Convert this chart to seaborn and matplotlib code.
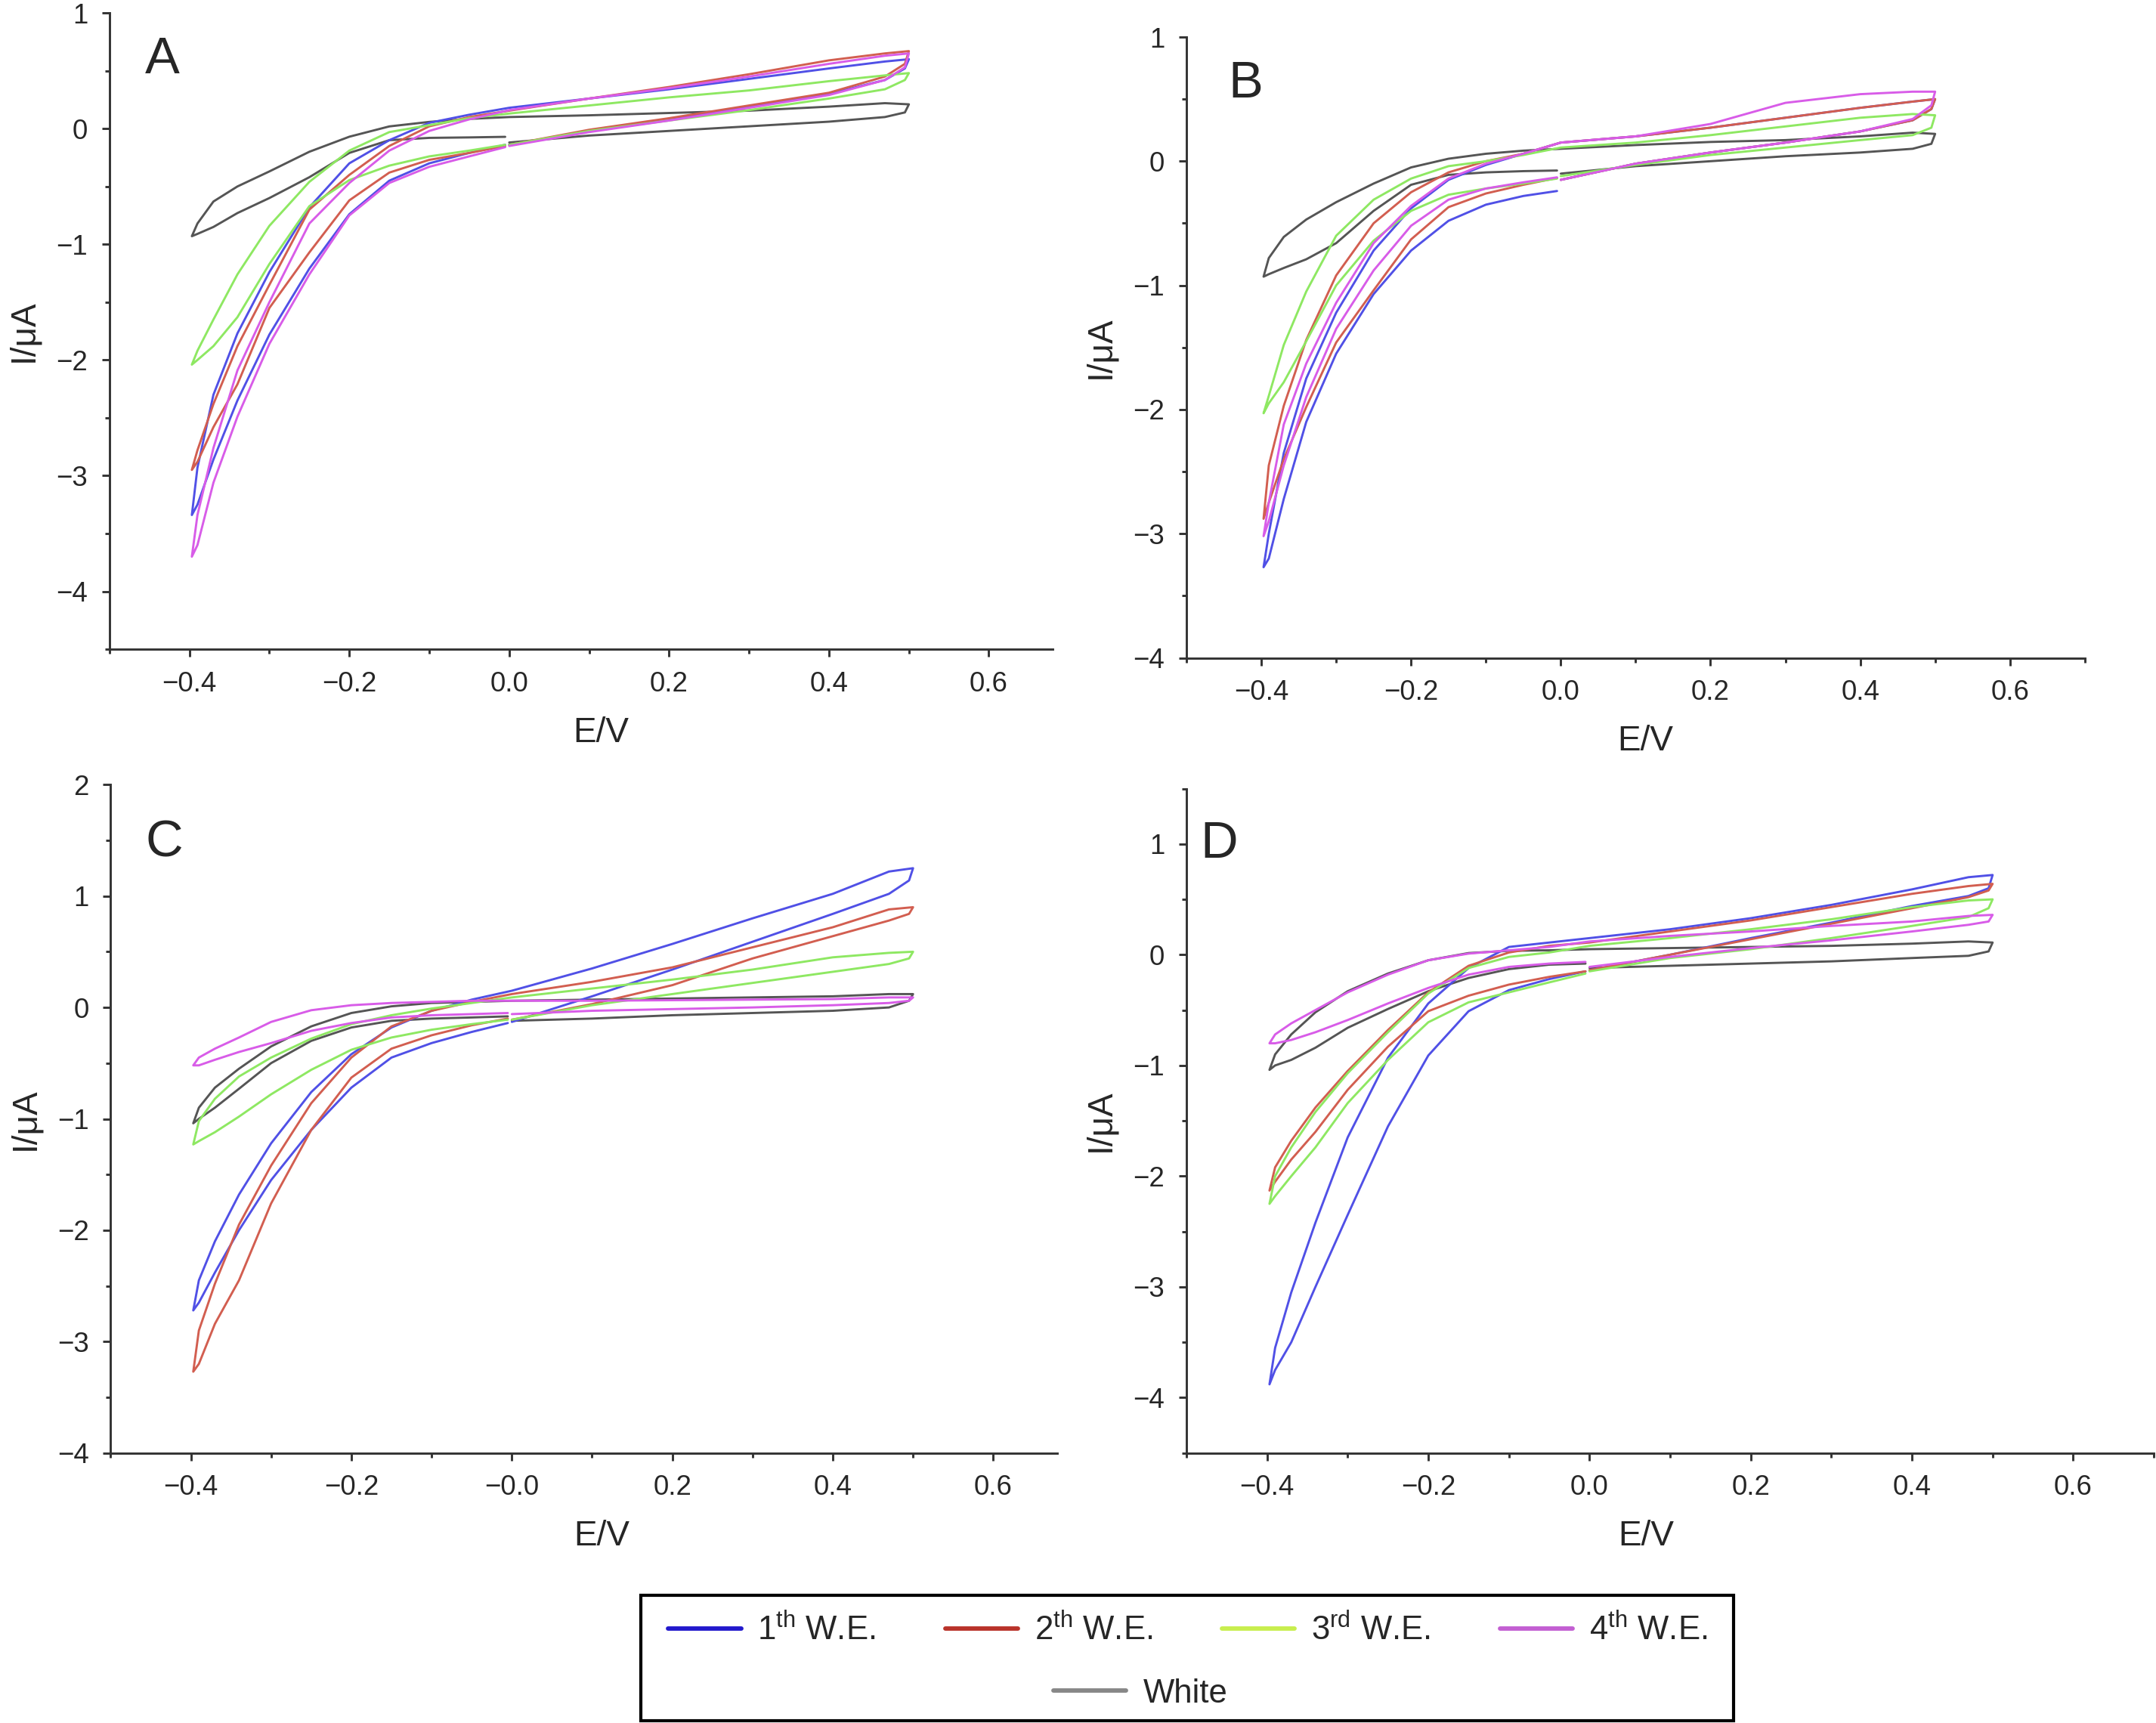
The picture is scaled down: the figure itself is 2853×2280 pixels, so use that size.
import pandas as pd
import matplotlib
matplotlib.use("Agg")
import matplotlib.pyplot as plt
from matplotlib.lines import Line2D
from matplotlib.patches import Rectangle
from matplotlib.ticker import MultipleLocator, FixedLocator
import seaborn as sns

# potential sweep: 0 -> +0.5 V -> -0.4 V -> back to 0 (same for every electrode)
E_SWEEP = [0.00, 0.10, 0.20, 0.30, 0.40, 0.47, 0.495,
           0.50,
           0.47, 0.40, 0.30, 0.20, 0.10, 0.00, -0.05, -0.10, -0.15, -0.20, -0.25, -0.30, -0.34, -0.37, -0.39,
           -0.397,
           -0.39, -0.37, -0.34, -0.30, -0.25, -0.20, -0.15, -0.10, -0.05, -0.005]

# panel A currents (uA)
A_WE1 = [-0.14, -0.02, 0.08, 0.19, 0.30, 0.42, 0.52,
         0.60,
         0.58, 0.52, 0.43, 0.34, 0.26, 0.18, 0.12, 0.05, -0.10, -0.30, -0.68, -1.24, -1.77, -2.30, -2.93,
         -3.34,
         -3.25, -2.86, -2.35, -1.78, -1.21, -0.74, -0.45, -0.30, -0.21, -0.14]
A_WE2 = [-0.14, -0.01, 0.09, 0.20, 0.31, 0.45, 0.56,
         0.67,
         0.65, 0.59, 0.47, 0.36, 0.26, 0.155, 0.10, 0.02, -0.15, -0.40, -0.70, -1.35, -1.88, -2.38, -2.78,
         -2.95,
         -2.88, -2.58, -2.21, -1.55, -1.07, -0.62, -0.38, -0.27, -0.21, -0.15]
A_WE3 = [-0.14, -0.02, 0.07, 0.16, 0.26, 0.34, 0.42,
         0.48,
         0.46, 0.41, 0.33, 0.27, 0.20, 0.13, 0.09, 0.03, -0.03, -0.19, -0.46, -0.84, -1.26, -1.65, -1.92,
         -2.04,
         -2.00, -1.88, -1.63, -1.17, -0.67, -0.445, -0.32, -0.24, -0.19, -0.14]
A_WE4 = [-0.15, -0.03, 0.07, 0.18, 0.29, 0.42, 0.53,
         0.65,
         0.63, 0.56, 0.45, 0.35, 0.26, 0.16, 0.08, -0.02, -0.19, -0.47, -0.82, -1.50, -2.09, -2.76, -3.34,
         -3.70,
         -3.60, -3.06, -2.49, -1.86, -1.26, -0.75, -0.47, -0.33, -0.24, -0.16]
A_WHITE = [-0.12, -0.06, -0.02, 0.02, 0.06, 0.10, 0.14,
           0.21,
           0.22, 0.19, 0.155, 0.135, 0.115, 0.10, 0.084, 0.058, 0.019, -0.07, -0.20, -0.37, -0.50, -0.63, -0.82,
           -0.93,
           -0.91, -0.85, -0.73, -0.60, -0.42, -0.21, -0.10, -0.08, -0.076, -0.071]

# panel B
B_WE1 = [-0.15, -0.02, 0.07, 0.15, 0.24, 0.33, 0.42,
         0.50,
         0.48, 0.43, 0.35, 0.27, 0.20, 0.15, 0.06, -0.03, -0.15, -0.38, -0.72, -1.22, -1.75, -2.35, -3.00,
         -3.27,
         -3.20, -2.72, -2.10, -1.55, -1.07, -0.72, -0.48, -0.35, -0.28, -0.24]
B_WE2 = [-0.15, -0.02, 0.07, 0.15, 0.24, 0.33, 0.42,
         0.50,
         0.48, 0.43, 0.35, 0.27, 0.20, 0.15, 0.06, 0.00, -0.09, -0.25, -0.50, -0.92, -1.44, -1.97, -2.45,
         -2.88,
         -2.75, -2.40, -1.98, -1.46, -1.04, -0.63, -0.37, -0.26, -0.19, -0.135]
B_WE3 = [-0.12, -0.03, 0.05, 0.11, 0.17, 0.21, 0.27,
         0.37,
         0.38, 0.35, 0.28, 0.21, 0.15, 0.11, 0.05, 0.00, -0.04, -0.14, -0.31, -0.60, -1.05, -1.48, -1.89,
         -2.03,
         -1.95, -1.78, -1.45, -1.00, -0.64, -0.40, -0.27, -0.22, -0.18, -0.14]
B_WE4 = [-0.15, -0.02, 0.07, 0.15, 0.24, 0.34, 0.45,
         0.56,
         0.56, 0.54, 0.47, 0.30, 0.20, 0.15, 0.06, -0.02, -0.14, -0.36, -0.66, -1.14, -1.63, -2.12, -2.75,
         -3.02,
         -2.90, -2.45, -1.90, -1.35, -0.88, -0.52, -0.31, -0.22, -0.17, -0.13]
B_WHITE = [-0.10, -0.04, 0.00, 0.04, 0.07, 0.10, 0.14,
           0.22,
           0.23, 0.20, 0.17, 0.155, 0.13, 0.10, 0.085, 0.06, 0.02, -0.05, -0.18, -0.33, -0.47, -0.61, -0.78,
           -0.93,
           -0.91, -0.86, -0.79, -0.66, -0.40, -0.19, -0.11, -0.09, -0.08, -0.075]

# panel C
C_WE1 = [-0.13, 0.10, 0.34, 0.59, 0.84, 1.02, 1.14,
         1.25,
         1.22, 1.02, 0.80, 0.57, 0.35, 0.15, 0.07, -0.03, -0.18, -0.42, -0.76, -1.22, -1.68, -2.10, -2.45,
         -2.72,
         -2.65, -2.38, -2.00, -1.55, -1.10, -0.72, -0.45, -0.32, -0.22, -0.14]
C_WE2 = [-0.11, 0.03, 0.20, 0.44, 0.64, 0.78, 0.84,
         0.90,
         0.88, 0.72, 0.54, 0.36, 0.23, 0.12, 0.05, -0.03, -0.17, -0.45, -0.86, -1.42, -1.95, -2.48, -2.90,
         -3.27,
         -3.20, -2.84, -2.45, -1.76, -1.10, -0.63, -0.37, -0.25, -0.16, -0.10]
C_WE3 = [-0.11, 0.02, 0.12, 0.22, 0.32, 0.39, 0.44,
         0.50,
         0.49, 0.45, 0.34, 0.25, 0.17, 0.09, 0.04, -0.01, -0.07, -0.15, -0.28, -0.45, -0.62, -0.82, -1.02,
         -1.23,
         -1.20, -1.12, -0.98, -0.78, -0.56, -0.38, -0.27, -0.20, -0.15, -0.11]
C_WE4 = [-0.06, -0.03, -0.015, 0.00, 0.02, 0.04, 0.06,
         0.09,
         0.09, 0.075, 0.07, 0.065, 0.06, 0.06, 0.06, 0.05, 0.04, 0.02, -0.025, -0.13, -0.27, -0.37, -0.45,
         -0.52,
         -0.52, -0.47, -0.40, -0.32, -0.21, -0.14, -0.09, -0.07, -0.06, -0.05]
C_WHITE = [-0.12, -0.10, -0.07, -0.05, -0.03, 0.00, 0.06,
           0.12,
           0.12, 0.10, 0.09, 0.08, 0.07, 0.06, 0.05, 0.04, 0.01, -0.05, -0.17, -0.35, -0.55, -0.72, -0.90,
           -1.04,
           -1.00, -0.90, -0.73, -0.50, -0.30, -0.18, -0.12, -0.10, -0.09, -0.08]

# panel D
D_WE1 = [-0.14, 0.00, 0.15, 0.29, 0.44, 0.53, 0.60,
         0.72,
         0.70, 0.59, 0.45, 0.33, 0.23, 0.15, 0.11, 0.07, -0.12, -0.44, -0.93, -1.65, -2.42, -3.05, -3.55,
         -3.88,
         -3.75, -3.50, -3.00, -2.35, -1.55, -0.91, -0.51, -0.32, -0.22, -0.15]
D_WE2 = [-0.14, 0.00, 0.14, 0.28, 0.42, 0.52, 0.58,
         0.64,
         0.62, 0.55, 0.43, 0.31, 0.21, 0.11, 0.08, 0.02, -0.10, -0.34, -0.68, -1.05, -1.38, -1.68, -1.92,
         -2.13,
         -2.05, -1.85, -1.60, -1.22, -0.83, -0.51, -0.37, -0.27, -0.20, -0.15]
D_WE3 = [-0.15, -0.03, 0.05, 0.15, 0.26, 0.34, 0.42,
         0.50,
         0.49, 0.43, 0.32, 0.23, 0.15, 0.08, 0.02, -0.02, -0.12, -0.35, -0.70, -1.07, -1.42, -1.74, -2.00,
         -2.25,
         -2.18, -2.00, -1.74, -1.34, -0.95, -0.61, -0.43, -0.34, -0.25, -0.17]
D_WE4 = [-0.11, -0.02, 0.06, 0.13, 0.21, 0.27, 0.30,
         0.36,
         0.35, 0.30, 0.26, 0.21, 0.17, 0.12, 0.07, 0.04, 0.01, -0.05, -0.18, -0.34, -0.50, -0.62, -0.72,
         -0.80,
         -0.80, -0.77, -0.70, -0.59, -0.44, -0.30, -0.18, -0.11, -0.08, -0.065]
D_WHITE = [-0.12, -0.10, -0.08, -0.06, -0.03, -0.01, 0.03,
           0.11,
           0.12, 0.10, 0.08, 0.07, 0.06, 0.05, 0.04, 0.035, 0.015, -0.05, -0.17, -0.33, -0.52, -0.72, -0.90,
           -1.04,
           -1.00, -0.95, -0.84, -0.66, -0.49, -0.33, -0.21, -0.13, -0.09, -0.08]

SERIES = ['1th W.E.', '2th W.E.', '3rd W.E.', '4th W.E.', 'White']
LEGEND_LABELS = [r'1$^{\mathrm{th}}$ W.E.', r'2$^{\mathrm{th}}$ W.E.', r'3$^{\mathrm{rd}}$ W.E.',
                 r'4$^{\mathrm{th}}$ W.E.', 'White']
LINE_COLORS = ['#5050e6', '#d25e50', '#8ee862', '#d85ce8', '#555555']
LEGEND_COLORS = ['#2219cc', '#b9332a', '#c8ee4e', '#c35fd2', '#878787']

# letter, currents, axes rect, xlim, ylim, letter position, xlabel x position
PANELS = [
    ('A', [A_WE1, A_WE2, A_WE3, A_WE4, A_WHITE], [0.0508, 0.6232, 0.4375, 0.3693], (-0.5, 0.68), (-4.5, 1),
     (0.056, 0.927), 0.521),
    ('B', [B_WE1, B_WE2, B_WE3, B_WE4, B_WHITE], [0.5503, 0.6182, 0.4167, 0.3603], (-0.5, 0.70), (-4, 1),
     (0.066, 0.925), 0.511),
    ('C', [C_WE1, C_WE2, C_WE3, C_WE4, C_WHITE], [0.0513, 0.1567, 0.4392, 0.3879], (-0.5, 0.68), (-4, 2),
     (0.057, 0.913), 0.519),
    ('D', [D_WE1, D_WE2, D_WE3, D_WE4, D_WHITE], [0.5503, 0.1567, 0.4487, 0.3856], (-0.5, 0.70), (-4.5, 1.5),
     (0.034, 0.916), 0.475),
]
XTICKS = [-0.4, -0.2, 0.0, 0.2, 0.4, 0.6]
XTICKLABELS = ['\u22120.4', '\u22120.2', '0.0', '0.2', '0.4', '0.6']

sns.set_theme(style='ticks')
plt.rcParams['font.family'] = ['Liberation Sans', 'DejaVu Sans']
plt.rcParams['mathtext.fontset'] = 'custom'
plt.rcParams['mathtext.rm'] = 'Liberation Sans'
plt.rcParams['mathtext.it'] = 'Liberation Sans:italic'
plt.rcParams['mathtext.bf'] = 'Liberation Sans:bold'

fig = plt.figure(figsize=(2853 / 300, 2280 / 300), dpi=300)
palette = dict(zip(SERIES, LINE_COLORS))

for letter, currents, rect, xlim, ylim, letter_pos, xlab_x in PANELS:
    ax = fig.add_axes(rect)
    frames = []
    for name, vals in zip(SERIES, currents):
        frames.append(pd.DataFrame({'E': E_SWEEP, 'I': vals, 'series': name}))
    df = pd.concat(frames, ignore_index=True)
    # white first so the electrodes sit on top
    df['series'] = pd.Categorical(df['series'], categories=['White'] + SERIES[:4], ordered=True)
    sns.lineplot(data=df, x='E', y='I', hue='series', palette=palette, sort=False,
                 estimator=None, lw=0.7, legend=False, ax=ax)

    ax.set_xlim(*xlim)
    ax.set_ylim(*ylim)
    ax.xaxis.set_major_locator(FixedLocator(XTICKS))
    labels = list(XTICKLABELS)
    if letter == 'C':
        labels[2] = '\u22120.0'
    ax.set_xticklabels(labels)
    ax.xaxis.set_minor_locator(MultipleLocator(0.1))
    ax.yaxis.set_major_locator(MultipleLocator(1))
    ax.yaxis.set_minor_locator(MultipleLocator(0.5))

    sns.despine(ax=ax)
    for side in ['left', 'bottom']:
        ax.spines[side].set_color('#333333')
        ax.spines[side].set_linewidth(0.7)
    ax.tick_params(which='major', direction='out', length=2.4, width=0.7, pad=4.5,
                   labelsize=8.8, color='#333333')
    ax.tick_params(which='minor', direction='out', length=1.5, width=0.7, color='#333333')

    ax.set_xlabel('E/V', fontsize=11, labelpad=6)
    ax.xaxis.label.set_x(xlab_x)
    ax.set_ylabel('I/\u03bcA', fontsize=11, labelpad=5)
    ax.text(letter_pos[0], letter_pos[1], letter, transform=ax.transAxes,
            fontsize=16.5, ha='center', va='center')

# legend box at the bottom
fig.add_artist(Rectangle((0.2972, 0.0012), 0.5068, 0.0730, transform=fig.transFigure,
                         fill=False, edgecolor='black', lw=1.0))
handles = [Line2D([], [], color=c, lw=1.4) for c in LEGEND_COLORS]
fig.legend(handles[:4], LEGEND_LABELS[:4], ncol=4, loc='center', bbox_to_anchor=(0.551, 0.054),
           frameon=False, fontsize=10.5, handlelength=2.2, handletextpad=0.5, columnspacing=2.1)
fig.legend(handles[4:], LEGEND_LABELS[4:], loc='center', bbox_to_anchor=(0.529, 0.017),
           frameon=False, fontsize=10.5, handlelength=2.2, handletextpad=0.5)

fig.savefig('out.png', dpi=300)
plt.close(fig)
